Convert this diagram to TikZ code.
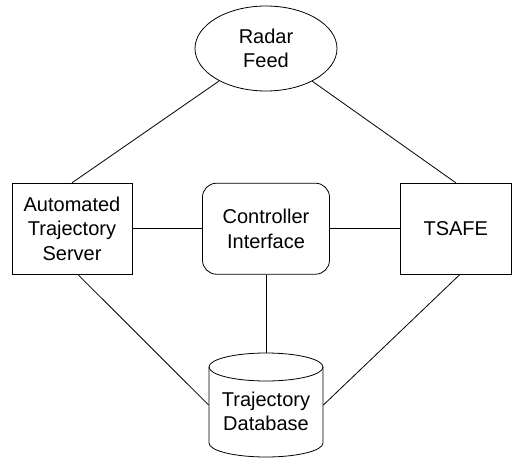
\documentclass[tikz,border=0pt]{standalone}
\usepackage{fontspec}
\setmainfont{Liberation Sans}
\usetikzlibrary{shapes.geometric}
\begin{document}
\begin{tikzpicture}[x=1pt,y=-1pt,line width=0.8pt,
  lbl/.style={font=\fontsize{20}{24.5}\selectfont,align=center},
  boxnode/.style={draw,lbl,minimum width=#1,minimum height=91pt,inner sep=0pt},
  conn/.style={draw,line width=0.8pt}]
\useasboundingbox (0,0) rectangle (512,458);
% nodes
\node[draw,ellipse,lbl,minimum width=142pt,minimum height=85pt,inner sep=0pt] (radar) at (266,48.5) {Radar\\Feed};
\node[boxnode=120pt] (ats) at (72,228.7) {Automated\\Trajectory\\Server};
\node[boxnode=127pt,rounded corners=14pt] (ctrl) at (266,228.7) {Controller\\Interface};
\node[boxnode=111pt] (tsafe) at (455.8,228.7) {TSAFE};
\node[minimum width=114pt,minimum height=104pt,inner sep=0pt] (db) at (266,405) {};
% cylinder outline
\draw (209,367) -- (209,443) arc[start angle=180,end angle=360,x radius=57,y radius=-14] -- (323,367);
\draw (266,367) ellipse [x radius=57,y radius=14];
\node[lbl] (dbtext) at (266,411.5) {Trajectory\\Database};
% connectors
\draw[conn] (radar) -- (ats.north);
\draw[conn] (radar) -- (tsafe.north);
\draw[conn] (ats) -- (ctrl);
\draw[conn] (ctrl) -- (tsafe);
\draw[conn] (ctrl) -- (db);
\draw[conn] ([xshift=6pt]ats.south) -- (db.west);
\draw[conn] ([xshift=4pt]tsafe.south) -- (db.east);
\end{tikzpicture}
\end{document}
